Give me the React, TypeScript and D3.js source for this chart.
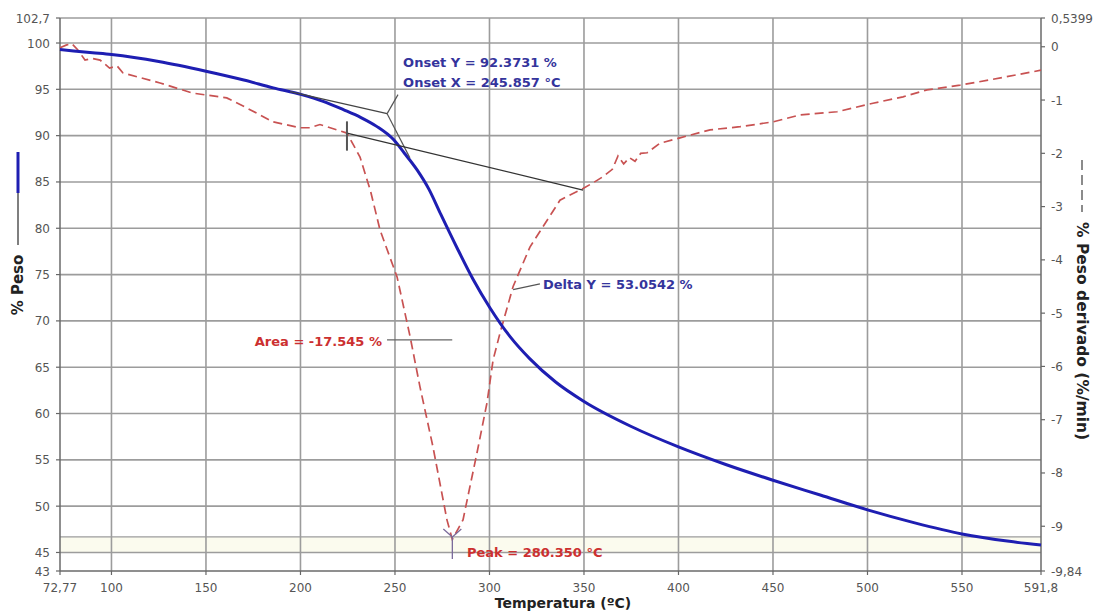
import React from "react";
import * as d3 from "d3";

// ---- data ----
const massTemps = [72.77, 80, 90, 100, 125, 150, 170, 185.6, 200.6, 212, 222.7, 232, 240.3, 249.1, 255, 261.7, 268, 273.8, 282.8, 291.3, 300.3, 310.9, 321.4, 335, 350, 375, 400, 425, 450, 475, 500, 525, 550, 575, 591.8];
const massValues = [99.3, 99.15, 98.95, 98.75, 98.0, 96.95, 96.0, 95.16, 94.43, 93.7, 92.8, 91.95, 91.0, 89.6, 88.1, 86.3, 84.2, 81.7, 77.9, 74.5, 71.4, 68.3, 65.9, 63.4, 61.3, 58.6, 56.4, 54.5, 52.8, 51.2, 49.6, 48.2, 47.0, 46.2, 45.8];

const derivTemps = [72.77, 76, 79, 82, 86, 90, 94, 99, 103, 106, 125.7, 143, 161, 171.7, 185.5, 199.8, 205, 210.3, 214, 224.6, 231.5, 237, 242.1, 251.1, 258, 263.2, 270.1, 277.5, 280.35, 286, 293.4, 298.7, 301.9, 305.6, 312.5, 321.4, 337.3, 349.5, 355, 360, 365, 368, 371, 374, 377, 380, 383.4, 390.2, 400.8, 416.7, 432.6, 450, 464.3, 483.9, 502.9, 518.8, 531.5, 549, 565, 591.8];
const derivValues = [-0.02, 0.03, 0.06, -0.05, -0.25, -0.22, -0.25, -0.4, -0.36, -0.49, -0.68, -0.87, -0.96, -1.15, -1.41, -1.52, -1.52, -1.46, -1.5, -1.62, -2.07, -2.7, -3.44, -4.32, -5.44, -6.38, -7.51, -8.88, -9.25, -8.88, -7.62, -6.68, -5.88, -5.37, -4.5, -3.76, -2.88, -2.66, -2.55, -2.44, -2.3, -2.05, -2.2, -2.08, -2.15, -2.0, -1.99, -1.81, -1.71, -1.56, -1.5, -1.41, -1.28, -1.22, -1.06, -0.94, -0.81, -0.72, -0.62, -0.44];

const xTicks = [72.77, 100, 150, 200, 250, 300, 350, 400, 450, 500, 550, 591.8];
const xTickLabels = ["72,77", "100", "150", "200", "250", "300", "350", "400", "450", "500", "550", "591,8"];
const leftTicks = [43, 45, 50, 55, 60, 65, 70, 75, 80, 85, 90, 95, 100, 102.7];
const leftTickLabels = ["43", "45", "50", "55", "60", "65", "70", "75", "80", "85", "90", "95", "100", "102,7"];
const rightTicks = [0.5399, 0, -1, -2, -3, -4, -5, -6, -7, -8, -9, -9.84];
const rightTickLabels = ["0,5399", "0", "-1", "-2", "-3", "-4", "-5", "-6", "-7", "-8", "-9", "-9,84"];

// annotation data (temperature, value)
const onsetPoint = [245.857, 92.3731];
const onsetTangentStart = [194.5, 94.76];
const onsetSteepEnd = [257.9, 87.6];
const onsetLeaderEnd = [251.6, 94.43];
const areaBaseline = [[224.6, -1.62], [349.5, -2.69]];
const areaTick = [224.6, -1.4, -1.95];
const areaLeader = [[245.8, -5.5], [280.3, -5.5]];
const deltaLeader = [[312.5, -4.56], [326.7, -4.45]];
const peakTemp = 280.35;
const peakValue = -9.2;

const W = 1099, H = 615;
const x = d3.scaleLinear().domain([72.77, 591.8]).range([60, 1041]);
const yL = d3.scaleLinear().domain([43, 102.7]).range([571, 18]);
const yR = d3.scaleLinear().domain([-9.84, 0.5399]).range([571, 18]);

export default function App() {
  const massLine = d3.line<number>().x((_, i) => x(massTemps[i])).y((d) => yL(d)).curve(d3.curveMonotoneX)(massValues) || "";
  const derivLine = d3.line<number>().x((_, i) => x(derivTemps[i])).y((d) => yR(d)).curve(d3.curveLinear)(derivValues) || "";
  const tickFont = "'DejaVu Sans', sans-serif";
  const boldFont = "'DejaVu Sans', sans-serif";
  const grid = "#9c9c9c";
  const x0 = x.range()[0], x1 = x.range()[1];
  const yTop = yL.range()[1], yBot = yL.range()[0];
  return (
    <svg width={W} height={H} style={{ position: "absolute", left: 0, top: 0, background: "#fff" }}>
      {/* faint band near bottom */}
      <rect x={x0} y={yR(peakValue)} width={x1 - x0} height={yL(45) - yR(peakValue)} fill="#fbfbee" />
      {/* horizontal grid */}
      {leftTicks.filter((t) => t !== 43).map((t) => (
        <line key={"hg" + t} x1={x0} x2={x1} y1={yL(t)} y2={yL(t)} stroke={grid} strokeWidth={1.6} />
      ))}
      {/* peak level line */}
      <line x1={x0} x2={x1} y1={yR(peakValue)} y2={yR(peakValue)} stroke={grid} strokeWidth={1.4} />
      {/* vertical grid */}
      {xTicks.slice(1, -1).map((t) => (
        <line key={"vg" + t} x1={x(t)} x2={x(t)} y1={yTop} y2={yBot} stroke={grid} strokeWidth={1.6} />
      ))}
      {/* axes */}
      <line x1={x0} x2={x0} y1={yTop} y2={yBot} stroke="#6a6a6a" strokeWidth={1.5} />
      <line x1={x1} x2={x1} y1={yTop} y2={yBot} stroke="#6a6a6a" strokeWidth={1.5} />
      <line x1={x0} x2={x1} y1={yBot} y2={yBot} stroke="#6a6a6a" strokeWidth={1.5} />
      {/* left ticks */}
      {leftTicks.map((t, i) => (
        <g key={"lt" + t}>
          <line x1={x0 - 4} x2={x0} y1={yL(t)} y2={yL(t)} stroke="#666" strokeWidth={1.2} />
          <text x={50} y={yL(t) + 4.5} textAnchor="end" fontFamily={tickFont} fontSize={12} fill="#555">{leftTickLabels[i]}</text>
        </g>
      ))}
      {/* right ticks */}
      {rightTicks.map((t, i) => (
        <g key={"rt" + t}>
          <line x1={x1} x2={x1 + 4} y1={yR(t)} y2={yR(t)} stroke="#666" strokeWidth={1.2} />
          <text x={1051} y={yR(t) + 4.5} textAnchor="start" fontFamily={tickFont} fontSize={12} fill="#555">{rightTickLabels[i]}</text>
        </g>
      ))}
      {/* bottom ticks */}
      {xTicks.map((t, i) => (
        <g key={"bt" + t}>
          <line x1={x(t)} x2={x(t)} y1={yBot} y2={yBot + 4} stroke="#666" strokeWidth={1.2} />
          <text x={x(t)} y={592} textAnchor="middle" fontFamily={tickFont} fontSize={12} fill="#555">{xTickLabels[i]}</text>
        </g>
      ))}

      {/* derivative curve */}
      <path d={derivLine} fill="none" stroke="#c85252" strokeWidth={1.7} strokeDasharray="9,5" />
      {/* mass curve */}
      <path d={massLine} fill="none" stroke="#1e1eb2" strokeWidth={3} />

      {/* onset construction */}
      <line x1={x(onsetTangentStart[0])} y1={yL(onsetTangentStart[1])} x2={x(onsetPoint[0])} y2={yL(onsetPoint[1])} stroke="#444" strokeWidth={1.2} />
      <line x1={x(onsetPoint[0])} y1={yL(onsetPoint[1])} x2={x(onsetSteepEnd[0])} y2={yL(onsetSteepEnd[1])} stroke="#555" strokeWidth={1.2} />
      <line x1={x(onsetPoint[0])} y1={yL(onsetPoint[1])} x2={x(onsetLeaderEnd[0])} y2={yL(onsetLeaderEnd[1])} stroke="#555" strokeWidth={1.2} />
      {/* area baseline */}
      <line x1={x(areaBaseline[0][0])} y1={yR(areaBaseline[0][1])} x2={x(areaBaseline[1][0])} y2={yR(areaBaseline[1][1])} stroke="#333" strokeWidth={1.2} />
      <line x1={x(areaTick[0])} y1={yR(areaTick[1])} x2={x(areaTick[0])} y2={yR(areaTick[2])} stroke="#555" strokeWidth={2} />
      {/* area leader */}
      <line x1={x(areaLeader[0][0])} y1={yR(areaLeader[0][1])} x2={x(areaLeader[1][0])} y2={yR(areaLeader[1][1])} stroke="#666" strokeWidth={1.2} />
      {/* delta leader */}
      <line x1={x(deltaLeader[0][0])} y1={yR(deltaLeader[0][1])} x2={x(deltaLeader[1][0])} y2={yR(deltaLeader[1][1])} stroke="#555" strokeWidth={1.2} />
      {/* peak marker */}
      <line x1={x(peakTemp)} x2={x(peakTemp)} y1={yR(peakValue)} y2={yR(peakValue) + 22} stroke="#7a6a9a" strokeWidth={1.3} />
      <line x1={x(peakTemp) - 9} y1={yR(peakValue) - 8} x2={x(peakTemp)} y2={yR(peakValue)} stroke="#7a6a9a" strokeWidth={1.3} />
      <line x1={x(peakTemp) + 9} y1={yR(peakValue) - 8} x2={x(peakTemp)} y2={yR(peakValue)} stroke="#7a6a9a" strokeWidth={1.3} />

      {/* annotation texts */}
      <text x={x(254.3)} y={67} fontFamily={boldFont} fontWeight="bold" fontSize={13} fill="#34349c">Onset Y = 92.3731 %</text>
      <text x={x(254.3)} y={87} fontFamily={boldFont} fontWeight="bold" fontSize={13} fill="#34349c">Onset X = 245.857 °C</text>
      <text x={x(328.3)} y={yR(deltaLeader[1][1]) + 5} fontFamily={boldFont} fontWeight="bold" fontSize={13} fill="#34349c">Delta Y = 53.0542 %</text>
      <text x={x(243.1)} y={yR(areaLeader[0][1]) + 6} textAnchor="end" fontFamily={boldFont} fontWeight="bold" fontSize={13} fill="#cc3030">Area = -17.545 %</text>
      <text x={x(288.1)} y={557} fontFamily={boldFont} fontWeight="bold" fontSize={13} fill="#cc3030">Peak = 280.350 °C</text>

      {/* axis titles */}
      <text x={563} y={608} textAnchor="middle" fontFamily={boldFont} fontWeight="bold" fontSize={14} fill="#222">Temperatura (ºC)</text>
      <line x1={18} x2={18} y1={152} y2={193} stroke="#1e1eb2" strokeWidth={3} />
      <line x1={18} x2={18} y1={193} y2={245} stroke="#555" strokeWidth={1.5} />
      <text transform="translate(23,285) rotate(-90)" textAnchor="middle" fontFamily={boldFont} fontWeight="bold" fontSize={15} fill="#222">% Peso</text>
      <line x1={1082} x2={1082} y1={160} y2={212} stroke="#666" strokeWidth={1.5} strokeDasharray="10,5" />
      <text transform="translate(1077,222) rotate(90)" textAnchor="start" fontFamily={boldFont} fontWeight="bold" fontSize={15.5} fill="#222">% Peso derivado (%/min)</text>
    </svg>
  );
}
